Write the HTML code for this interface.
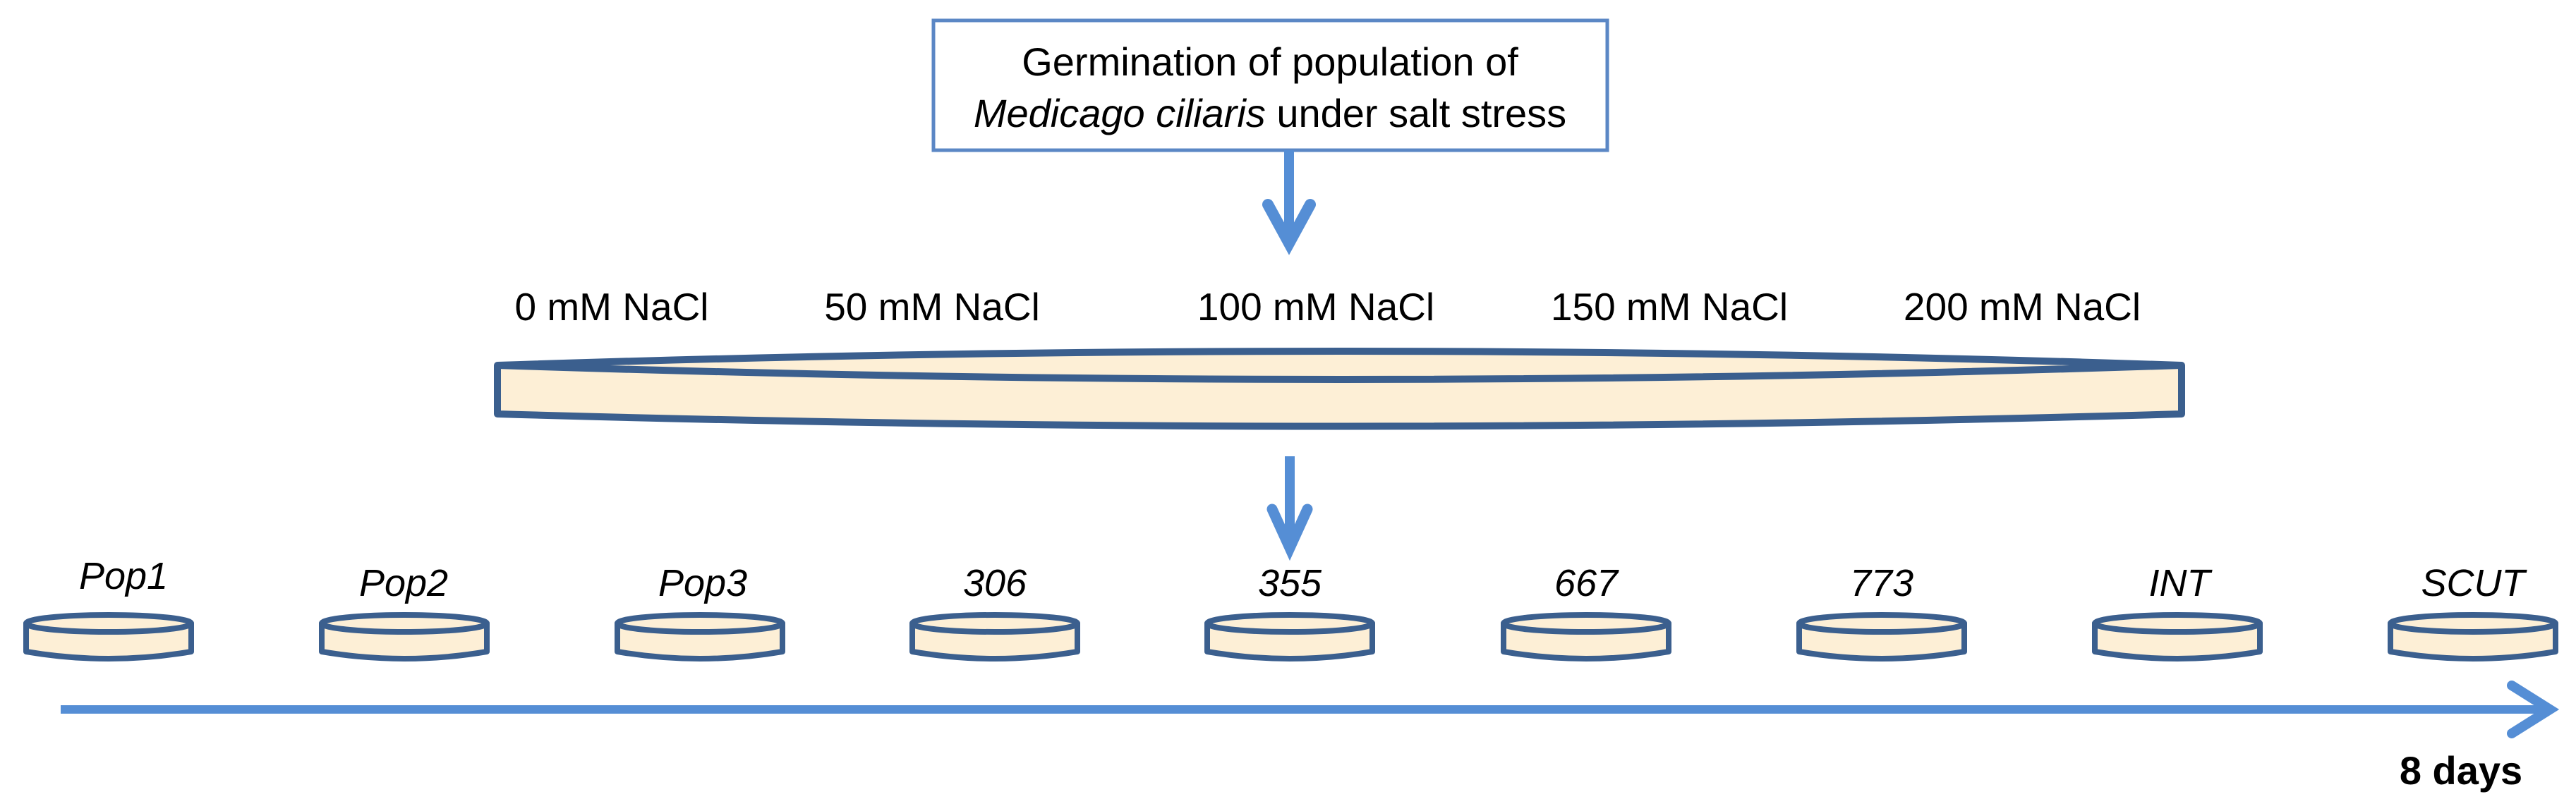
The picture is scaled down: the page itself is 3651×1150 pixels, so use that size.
<!DOCTYPE html>
<html><head><meta charset="utf-8"><style>
html,body{margin:0;padding:0;background:#fff;}
svg{display:block;}
text{font-family:"Liberation Sans",Arial,sans-serif;fill:#000;}
</style></head><body>
<svg width="3651" height="1150" viewBox="0 0 3651 1150" xmlns="http://www.w3.org/2000/svg">
<!-- top box -->
<rect x="1323" y="29" width="955" height="184" fill="#fff" stroke="#5B87C5" stroke-width="5"/>
<text x="1800" y="107" font-size="56" text-anchor="middle">Germination of population of</text>
<text x="1800" y="180" font-size="56" text-anchor="middle"><tspan font-style="italic">Medicago ciliaris</tspan> under salt stress</text>
<!-- arrow 1 -->
<line x1="1827" y1="213" x2="1827" y2="320" stroke="#558ED5" stroke-width="14"/>
<path d="M1797 290 L1827 345 L1857 290" fill="none" stroke="#558ED5" stroke-width="16" stroke-linecap="round" stroke-linejoin="miter"/>
<path d="M1810 320 L1827 348 L1844 320 Z" fill="#558ED5"/>
<!-- NaCl labels -->
<g font-size="55" text-anchor="middle">
<text x="867" y="454">0 mM NaCl</text>
<text x="1321" y="454">50 mM NaCl</text>
<text x="1865" y="454">100 mM NaCl</text>
<text x="2366" y="454">150 mM NaCl</text>
<text x="2866" y="454">200 mM NaCl</text>
</g>
<!-- big dish -->
<path d="M705 518 L705 587 Q1900 622 3092 587 L3092 518 Z" fill="#FDEFD6" stroke="#3B5F8E" stroke-width="10" stroke-linejoin="round"/>
<path d="M705 518 Q1900 478 3092 518 Q1900 558 705 518 Z" fill="#FDEFD6" stroke="#3B5F8E" stroke-width="10"/>
<!-- arrow 2 -->
<line x1="1828" y1="647" x2="1828" y2="750" stroke="#558ED5" stroke-width="14"/>
<path d="M1803 722 L1828 777 L1853 722" fill="none" stroke="#558ED5" stroke-width="15" stroke-linecap="round"/>
<path d="M1812 750 L1828 782 L1844 750 Z" fill="#558ED5"/>
<!-- small dishes -->
<defs>
<g id="d">
<path d="M-117 884 L-117 924 Q0 944 117 924 L117 884 Z" fill="#FDEFD6" stroke="#3B5F8E" stroke-width="8" stroke-linejoin="round"/>
<ellipse cx="0" cy="884" rx="117" ry="12" fill="#FDEFD6" stroke="#3B5F8E" stroke-width="8"/>
</g>
</defs>
<use href="#d" x="154"/><use href="#d" x="573"/><use href="#d" x="992"/>
<use href="#d" x="1410"/><use href="#d" x="1828"/><use href="#d" x="2248"/>
<use href="#d" x="2667"/><use href="#d" x="3086"/><use href="#d" x="3505"/>
<g font-size="54" font-style="italic" text-anchor="middle">
<text x="175" y="835">Pop1</text>
<text x="572" y="845">Pop2</text>
<text x="996" y="845">Pop3</text>
<text x="1410" y="845">306</text>
<text x="1828" y="845">355</text>
<text x="2248" y="845">667</text>
<text x="2667" y="845">773</text>
<text x="3089" y="845">INT</text>
<text x="3505" y="845">SCUT</text>
</g>
<!-- timeline -->
<line x1="86" y1="1006" x2="3610" y2="1006" stroke="#558ED5" stroke-width="12"/>
<path d="M3560 972 L3614 1006 L3560 1040" fill="none" stroke="#558ED5" stroke-width="14" stroke-linecap="round"/>
<text x="3488" y="1112" font-size="56" font-weight="bold" text-anchor="middle">8 days</text>
</svg>
</body></html>
